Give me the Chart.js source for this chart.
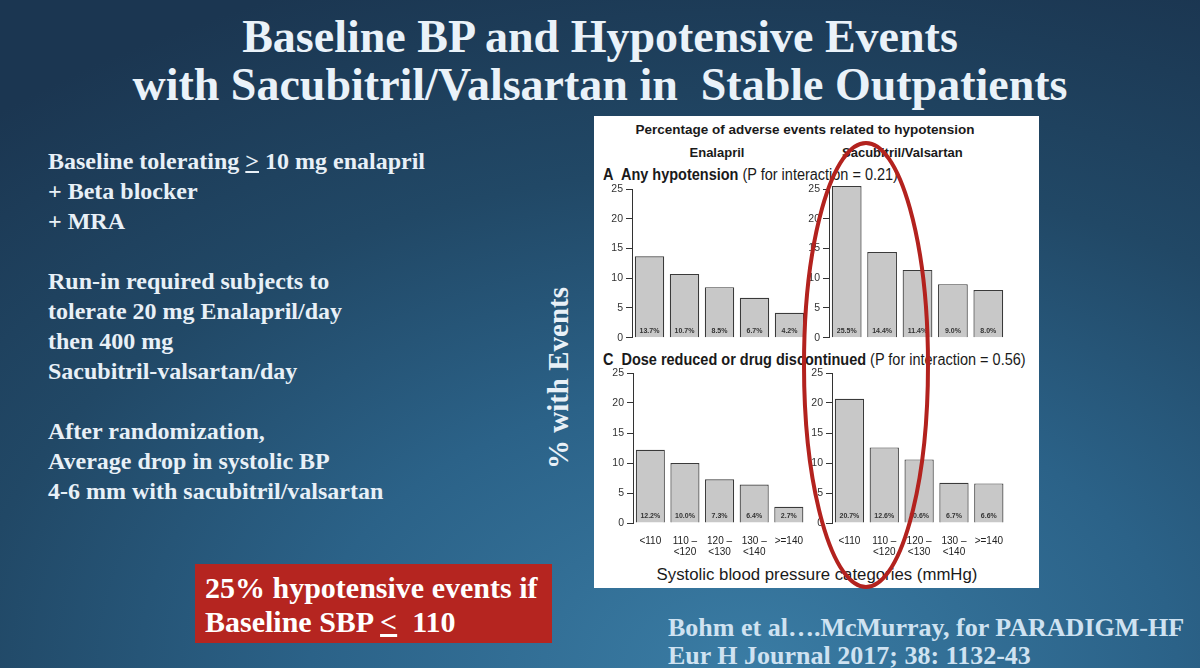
<!DOCTYPE html>
<html>
<head>
<meta charset="utf-8">
<script src="https://cdn.jsdelivr.net/npm/chart.js@4.4.0/dist/chart.umd.min.js"></script>
<style>
  html, body { margin: 0; padding: 0; }
  body {
    width: 1200px; height: 668px; position: relative; overflow: hidden;
    background: radial-gradient(ellipse 95% 110% at 62% 100%, #3a7ca4 0%, #2b6288 38%, #214866 68%, #1b3651 100%);
    font-family: "Liberation Serif", "Times New Roman", serif;
  }
  .abs { position: absolute; white-space: nowrap; }
  .title { left: 0; top: 13px; width: 1200px; text-align: center; color: #eaf2f9; font-weight: bold; font-size: 46px; line-height: 48px; }
  .notes { left: 48px; top: 146px; color: #e8f0f7; font-weight: bold; font-size: 24px; line-height: 30px; }
  .ylab { left: 558px; top: 378px; transform: translate(-50%, -50%) rotate(-90deg); color: #e8f0f7; font-weight: bold; font-size: 29px; }
  .redbox { left: 195px; top: 564px; width: 357px; height: 79px; background: #b52520; }
  .redtxt { left: 205px; top: 571px; color: #ffffff; font-weight: bold; font-size: 30px; line-height: 34px; }
  .cite { left: 668px; top: 614px; color: #cfe2f1; font-weight: bold; font-size: 26px; line-height: 28px; }
  .panel { left: 594px; top: 116px; width: 445px; height: 472px; background: #ffffff; }
  .sans { font-family: "Liberation Sans", Arial, sans-serif; color: #1a1a1a; }
  .hdr { font-size: 16px; transform: scaleX(0.905); transform-origin: left top; }
  canvas { position: absolute; }
</style>
</head>
<body>
<div class="abs title">Baseline BP and Hypotensive Events<br>with Sacubitril/Valsartan in&nbsp; Stable Outpatients</div>
<div class="abs notes">Baseline tolerating <u>&gt;</u> 10 mg enalapril<br>+ Beta blocker<br>+ MRA<br><br>Run-in required subjects to<br>tolerate 20 mg Enalapril/day<br>then 400 mg<br>Sacubitril-valsartan/day<br><br>After randomization,<br>Average drop in systolic BP<br>4-6 mm with sacubitril/valsartan</div>
<div class="abs ylab">% with Events</div>
<div class="abs redbox"></div>
<div class="abs redtxt">25% hypotensive events if<br>Baseline SBP <u>&lt;</u>&nbsp; 110</div>
<div class="abs cite">Bohm et al….McMurray, for PARADIGM-HF<br>Eur H Journal 2017; 38: 1132-43</div>

<div class="abs panel"></div>
<div class="abs sans" style="left:594px;width:422px;top:122px;text-align:center;font-weight:bold;font-size:13.5px;">Percentage of adverse events related to hypotension</div>
<div class="abs sans" style="left:677px;width:80px;top:145px;text-align:center;font-weight:bold;font-size:13px;">Enalapril</div>
<div class="abs sans" style="left:842px;width:120px;top:145px;text-align:center;font-weight:bold;font-size:13px;">Sacubitril/Valsartan</div>
<div class="abs sans hdr" style="left:603px;top:166px;"><b>A&nbsp; Any hypotension</b> (P for interaction = 0.21)</div>
<div class="abs sans hdr" style="left:603px;top:351px;"><b>C&nbsp; Dose reduced or drug discontinued</b> (P for interaction = 0.56)</div>
<div class="abs sans" style="left:600px;width:434px;top:565px;text-align:center;font-size:16.8px;">Systolic blood pressure categories (mmHg)</div>

<canvas id="gA1"></canvas>
<canvas id="gA2"></canvas>
<canvas id="gC1"></canvas>
<canvas id="gC2"></canvas>

<svg class="abs" style="left:0;top:0;pointer-events:none;" width="1200" height="668">
  <ellipse cx="866" cy="365" rx="62" ry="222" fill="none" stroke="#b3221e" stroke-width="4"/>
</svg>

<script>
// categorias de pressao sistolica (mmHg)
const categorias = ['<110', ['110 –', '<120'], ['120 –', '<130'], ['130 –', '<140'], '>=140'];

// A - qualquer hipotensao (%)
const enalaprilA = [13.7, 10.7, 8.5, 6.7, 4.2];
const sacubitrilA = [25.5, 14.4, 11.4, 9.0, 8.0];

// C - dose reduzida ou droga descontinuada (%)
const enalaprilC = [12.2, 10.0, 7.3, 6.4, 2.7];
const sacubitrilC = [20.7, 12.6, 10.6, 6.7, 6.6];

const yMax = 25;
const yPasso = 5;

//Rotulo de % dentro das barras
const rotulosBarras = {
    id: 'rotulosBarras',
    afterDatasetsDraw(chart) {
        let ctx = chart.ctx;
        let meta = chart.getDatasetMeta(0);
        let valores = chart.data.datasets[0].data;
        ctx.save();
        ctx.font = 'bold 7px "Liberation Sans", Arial, sans-serif';
        ctx.fillStyle = '#333333';
        ctx.textAlign = 'center';
        ctx.textBaseline = 'middle';
        meta.data.forEach(function (barra, i) {
            ctx.fillText(valores[i].toFixed(1) + '%', barra.x, chart.chartArea.bottom - 7);
        });
        ctx.restore();
    }
};

function criaGrafico(id, valores, esquerda, direita, topo, base, mostrarX) {
    let larguraY = 40;
    let alturaX = mostrarX ? 45 : 0;
    let padBase = mostrarX ? 0 : 8;
    let canvas = document.getElementById(id);
    canvas.width = direita - esquerda + larguraY;
    canvas.height = base - topo + 10 + alturaX + padBase;
    canvas.style.left = (esquerda - larguraY) + 'px';
    canvas.style.top = (topo - 10) + 'px';

    return new Chart(canvas.getContext('2d'), {
        type: 'bar',
        data: {
            labels: categorias,
            datasets: [{
                data: valores,
                backgroundColor: '#c8c8c8',
                borderColor: '#3a3a3a',
                borderWidth: 1.2,
                barPercentage: 0.84,
                categoryPercentage: 1,
                clip: false
            }]
        },
        options: {
            responsive: false,
            animation: false,
            devicePixelRatio: 1,
            layout: {padding: {top: 10, bottom: padBase, left: 0, right: 0}},
            plugins: {legend: {display: false}, tooltip: {enabled: false}},
            scales: {
                x: {
                    display: mostrarX,
                    grid: {display: false},
                    border: {display: false},
                    ticks: {
                        color: '#222222',
                        padding: 5,
                        maxRotation: 0,
                        autoSkip: false,
                        font: {family: '"Liberation Sans", Arial, sans-serif', size: 10, lineHeight: 1.05}
                    },
                    afterFit: function (scale) { scale.height = alturaX; }
                },
                y: {
                    min: 0,
                    max: yMax,
                    grid: {drawOnChartArea: false, drawTicks: true, tickLength: 6, color: '#333333'},
                    border: {display: true, color: '#333333', width: 1},
                    ticks: {
                        stepSize: yPasso,
                        padding: 3,
                        color: '#333333',
                        font: {family: '"Liberation Sans", Arial, sans-serif', size: 10.5}
                    },
                    afterFit: function (scale) { scale.width = larguraY; }
                }
            }
        },
        plugins: [rotulosBarras]
    });
}

criaGrafico('gA1', enalaprilA, 632, 807, 189, 339, false);
criaGrafico('gA2', sacubitrilA, 829, 1006, 189, 339, false);
criaGrafico('gC1', enalaprilC, 633, 808, 373, 523, true);
criaGrafico('gC2', sacubitrilC, 832, 1008, 373, 523, true);
</script>
</body>
</html>
